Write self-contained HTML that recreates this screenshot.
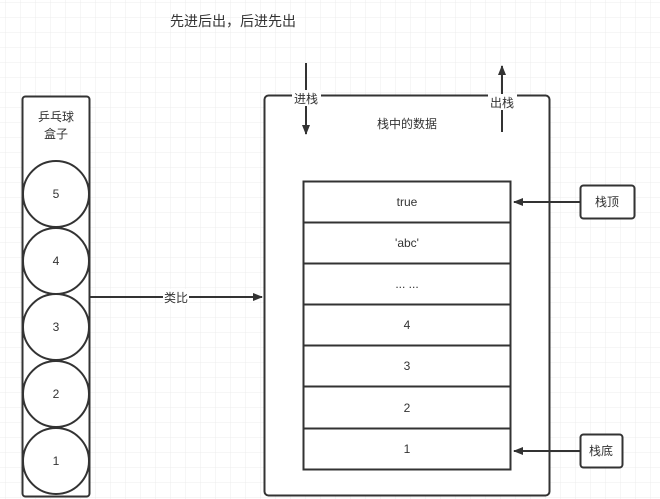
<!DOCTYPE html>
<html><head><meta charset="utf-8"><style>
html,body{margin:0;padding:0;background:#fff;}
svg{display:block;}
text{font-family:"Liberation Sans","Noto Sans CJK SC",sans-serif;fill:#333;}
</style></head><body>
<svg width="660" height="499" viewBox="0 0 660 499" xmlns="http://www.w3.org/2000/svg">
<defs>
<pattern id="g" width="15" height="15" patternUnits="userSpaceOnUse" x="6" y="3">
<path d="M15 0V15M0 15H15" fill="none" stroke="#ececec" stroke-width="1"/>
</pattern>
<marker id="a" viewBox="0 0 10 10" refX="9" refY="5" markerWidth="5" markerHeight="5" orient="auto"><path d="M0 1L10 5L0 9z" fill="#333"/></marker>
</defs>
<rect width="660" height="499" fill="url(#g)"/>
<text x="233" y="26" font-size="14" text-anchor="middle">先进后出，后进先出</text>
<!-- left box -->
<rect x="22.5" y="96.5" width="67" height="400" rx="3" fill="#fff" stroke="#333" stroke-width="2"/>
<text x="56" y="121" font-size="12" text-anchor="middle">乒乓球</text>
<text x="56" y="138" font-size="12" text-anchor="middle">盒子</text>
<g fill="#fff" stroke="#333" stroke-width="2">
<ellipse cx="56" cy="194" rx="33" ry="33"/>
<ellipse cx="56" cy="261" rx="33" ry="33"/>
<ellipse cx="56" cy="327" rx="33" ry="33"/>
<ellipse cx="56" cy="394" rx="33" ry="33"/>
<ellipse cx="56" cy="461" rx="33" ry="33"/>
</g>
<g font-size="12" text-anchor="middle">
<text x="56" y="198">5</text><text x="56" y="265">4</text><text x="56" y="331">3</text><text x="56" y="398">2</text><text x="56" y="465">1</text>
</g>
<!-- analogy arrow -->
<line x1="90" y1="297" x2="262" y2="297" stroke="#333" stroke-width="2" marker-end="url(#a)"/>
<rect x="163" y="289" width="26" height="16" fill="#fff"/>
<text x="176" y="302" font-size="12" text-anchor="middle">类比</text>
<!-- big box -->
<rect x="264.5" y="95.5" width="285" height="400" rx="4" fill="#fff" stroke="#333" stroke-width="2"/>
<text x="407" y="128" font-size="12" text-anchor="middle">栈中的数据</text>
<line x1="306" y1="63" x2="306" y2="134" stroke="#333" stroke-width="2" marker-end="url(#a)"/>
<rect x="292" y="90" width="29" height="16" fill="#fff"/>
<text x="306" y="103" font-size="12" text-anchor="middle">进栈</text>
<line x1="502" y1="132" x2="502" y2="66" stroke="#333" stroke-width="2" marker-end="url(#a)"/>
<rect x="488" y="94" width="29" height="16" fill="#fff"/>
<text x="502" y="107" font-size="12" text-anchor="middle">出栈</text>
<!-- cells -->
<g fill="#fff" stroke="#333" stroke-width="2">
<rect x="303.5" y="181.5" width="207" height="41"/>
<rect x="303.5" y="222.5" width="207" height="41"/>
<rect x="303.5" y="263.5" width="207" height="41"/>
<rect x="303.5" y="304.5" width="207" height="41"/>
<rect x="303.5" y="345.5" width="207" height="41"/>
<rect x="303.5" y="386.5" width="207" height="42"/>
<rect x="303.5" y="428.5" width="207" height="41"/>
</g>
<g font-size="12" text-anchor="middle">
<text x="407" y="206">true</text><text x="407" y="247">'abc'</text><text x="407" y="288">... ...</text>
<text x="407" y="329">4</text><text x="407" y="370">3</text><text x="407" y="412">2</text><text x="407" y="453">1</text>
</g>
<!-- pointers -->
<rect x="580.5" y="185.5" width="54" height="33" rx="3" fill="#fff" stroke="#333" stroke-width="2"/>
<text x="607" y="206" font-size="12" text-anchor="middle">栈顶</text>
<line x1="580" y1="202" x2="514" y2="202" stroke="#333" stroke-width="2" marker-end="url(#a)"/>
<rect x="580.5" y="434.5" width="42" height="33" rx="3" fill="#fff" stroke="#333" stroke-width="2"/>
<text x="601" y="455" font-size="12" text-anchor="middle">栈底</text>
<line x1="580" y1="451" x2="514" y2="451" stroke="#333" stroke-width="2" marker-end="url(#a)"/>
</svg>
</body></html>
